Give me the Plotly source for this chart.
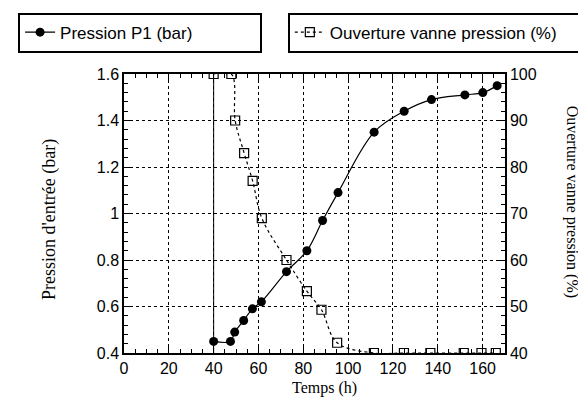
import plotly.graph_objects as go

temps = [40, 47.5, 49.4, 53.4, 57.3, 61.3, 72.5, 81.6, 88.6, 95.5,
         111.6, 125, 137.2, 152.1, 160.1, 166.5]
pression_p1 = [0.45, 0.45, 0.49, 0.54, 0.59, 0.62, 0.75, 0.84, 0.97, 1.09,
               1.35, 1.44, 1.49, 1.51, 1.52, 1.55]

temps_vanne = [40, 47.9, 49.6, 53.6, 57.4, 61.5, 72.5, 81.6, 88.1, 95.1,
               111.5, 124.9, 136.7, 151.6, 159.5, 165.9]
ouverture_vanne = [100, 100, 90, 83, 77, 69, 60, 53.3, 49.3, 42.2,
                   40, 40, 40, 40, 40, 40]

debut_essai = 40

sans = "Liberation Sans, Arial, Helvetica, sans-serif"
serif = "Liberation Serif, Times New Roman, serif"

fig = go.Figure()
fig.add_trace(go.Scatter(
    x=temps, y=pression_p1, name="Pression P1 (bar)",
    mode="lines+markers", line=dict(color="black", width=1.2, shape="spline"),
    marker=dict(symbol="circle", size=9, color="black"),
    legend="legend", showlegend=True))
fig.add_trace(go.Scatter(
    x=temps_vanne, y=ouverture_vanne, name="Ouverture vanne pression (%)",
    mode="lines+markers", yaxis="y2",
    line=dict(color="black", width=1.2, dash="dot", shape="spline"),
    marker=dict(symbol="square-open", size=9, color="black", line=dict(width=1.2)),
    legend="legend2", showlegend=True))

fig.add_vline(x=debut_essai, line=dict(color="black", width=1))

axe = dict(showline=True, linecolor="black", linewidth=1.5, ticks="inside",
           ticklen=7, tickcolor="black", zeroline=False, automargin=False,
           tickfont=dict(family=sans, size=16, color="black"))
grille = dict(showgrid=True, gridcolor="black", griddash="dot", gridwidth=1)

def titre(texte, x, y, angle, taille):
    return dict(text=texte, textangle=angle, xref="paper", yref="paper",
                x=x, y=y, xanchor="center", yanchor="middle", showarrow=False,
                font=dict(family=serif, size=taille, color="black"))

fig.update_layout(
    width=586, height=399, showlegend=True,
    margin=dict(l=116, r=89, t=66, b=54, autoexpand=False),
    paper_bgcolor="white", plot_bgcolor="white",
    font=dict(family=sans, color="black"),
    xaxis=dict(range=[0, 170], dtick=20, mirror="ticks", **axe, **grille,
               minor=dict(dtick=5, ticks="inside", ticklen=4, tickcolor="black")),
    yaxis=dict(range=[0.4, 1.6], dtick=0.2, **axe, **grille,
               minor=dict(dtick=0.04, ticks="inside", ticklen=4, tickcolor="black")),
    yaxis2=dict(range=[40, 100], dtick=10, overlaying="y", side="right",
                showgrid=False, **axe,
                minor=dict(dtick=2, ticks="inside", ticklen=4, tickcolor="black")),
    legend=dict(x=-0.278, y=1.22, xanchor="left", yanchor="top",
                orientation="h", entrywidth=195, bgcolor="white",
                bordercolor="black", borderwidth=2,
                font=dict(family=sans, size=17)),
    legend2=dict(x=0.43, y=1.22, xanchor="left", yanchor="top",
                 orientation="h", entrywidth=270, bgcolor="white",
                 bordercolor="black", borderwidth=2,
                 font=dict(family=sans, size=17)),
    annotations=[
        titre("Temps (h)", 0.525, -0.125, 0, 16),
        titre("Pression d'entrée (bar)", -0.194, 0.477, -90, 18),
        titre("Ouverture vanne pression (%)", 1.178, 0.543, 90, 16),
    ],
)

fig.write_html("out.html")
